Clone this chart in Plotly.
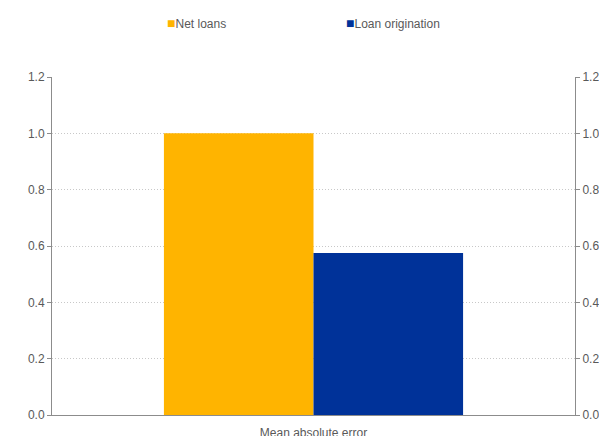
import plotly.graph_objects as go

categories = ["Mean absolute error"]
net_loans = [1.0]
loan_origination = [0.575]
series_names = ["Net loans", "Loan origination"]
colors = ["#FFB400", "#003299"]
y_ticks = [0.0, 0.2, 0.4, 0.6, 0.8, 1.0, 1.2]
y_tick_labels = ["0.0", "0.2", "0.4", "0.6", "0.8", "1.0", "1.2"]

FONT = "Liberation Sans, Arial, sans-serif"
TXT = "#595959"
AX = "#8c8c8c"

# page body has an 8px margin; screen positions are offset by it
OFF = 8
W, H = 607, 436
L, R, T, B = 52 - OFF, W - (575 - OFF), 77 - OFF, H - (415 - OFF)

fig = go.Figure()
fig.add_trace(go.Bar(x=categories, y=net_loans, name=series_names[0],
                     marker=dict(color=colors[0], line=dict(width=0))))
fig.add_trace(go.Bar(x=categories, y=loan_origination, name=series_names[1],
                     marker=dict(color=colors[1], line=dict(width=0))))
# invisible trace to carry the mirrored right axis
fig.add_trace(go.Scatter(x=categories, y=[None], yaxis="y2", showlegend=False,
                         hoverinfo="skip", mode="markers"))

fig.update_layout(
    width=W, height=H,
    margin=dict(l=L, r=R, t=T, b=B, autoexpand=False),
    paper_bgcolor="white", plot_bgcolor="white",
    barmode="group", bargap=0.428, bargroupgap=0,
    showlegend=False,
    font=dict(family=FONT, size=11, color=TXT),
    xaxis=dict(showline=True, linecolor=AX, linewidth=1, ticks="outside",
               ticklen=7, tickcolor="rgba(0,0,0,0)", showgrid=False,
               tickfont=dict(size=12, color=TXT)),
    yaxis=dict(range=[0, 1.2], tickvals=y_ticks, ticktext=y_tick_labels,
               showline=True, linecolor=AX, linewidth=1, ticks="outside",
               ticklen=4, tickcolor=AX, showgrid=True, gridcolor="#c8c8c8",
               griddash="1px,2px", gridwidth=1, zeroline=False,
               tickfont=dict(size=12, color=TXT)),
    yaxis2=dict(range=[0, 1.2], tickvals=y_ticks, ticktext=y_tick_labels,
                overlaying="y", side="right", anchor="x",
                showline=True, linecolor=AX, linewidth=1, ticks="outside",
                ticklen=4, tickcolor=AX, showgrid=False, zeroline=False,
                tickfont=dict(size=12, color=TXT)),
)

# legend entries placed at screen pixel positions
legend_x = [165, 344]
pw = W - L - R
ph = H - T - B
for name, col, lx in zip(series_names, colors, legend_x):
    fig.add_annotation(
        x=(lx - OFF - L) / pw, y=(H - B - (23 - OFF)) / ph,
        xref="paper", yref="paper", xanchor="left", yanchor="middle",
        text=f"<span style='color:{col};font-size:14px'>■</span>{name}",
        showarrow=False, font=dict(family=FONT, size=12, color=TXT))

fig.write_html("out.html")
